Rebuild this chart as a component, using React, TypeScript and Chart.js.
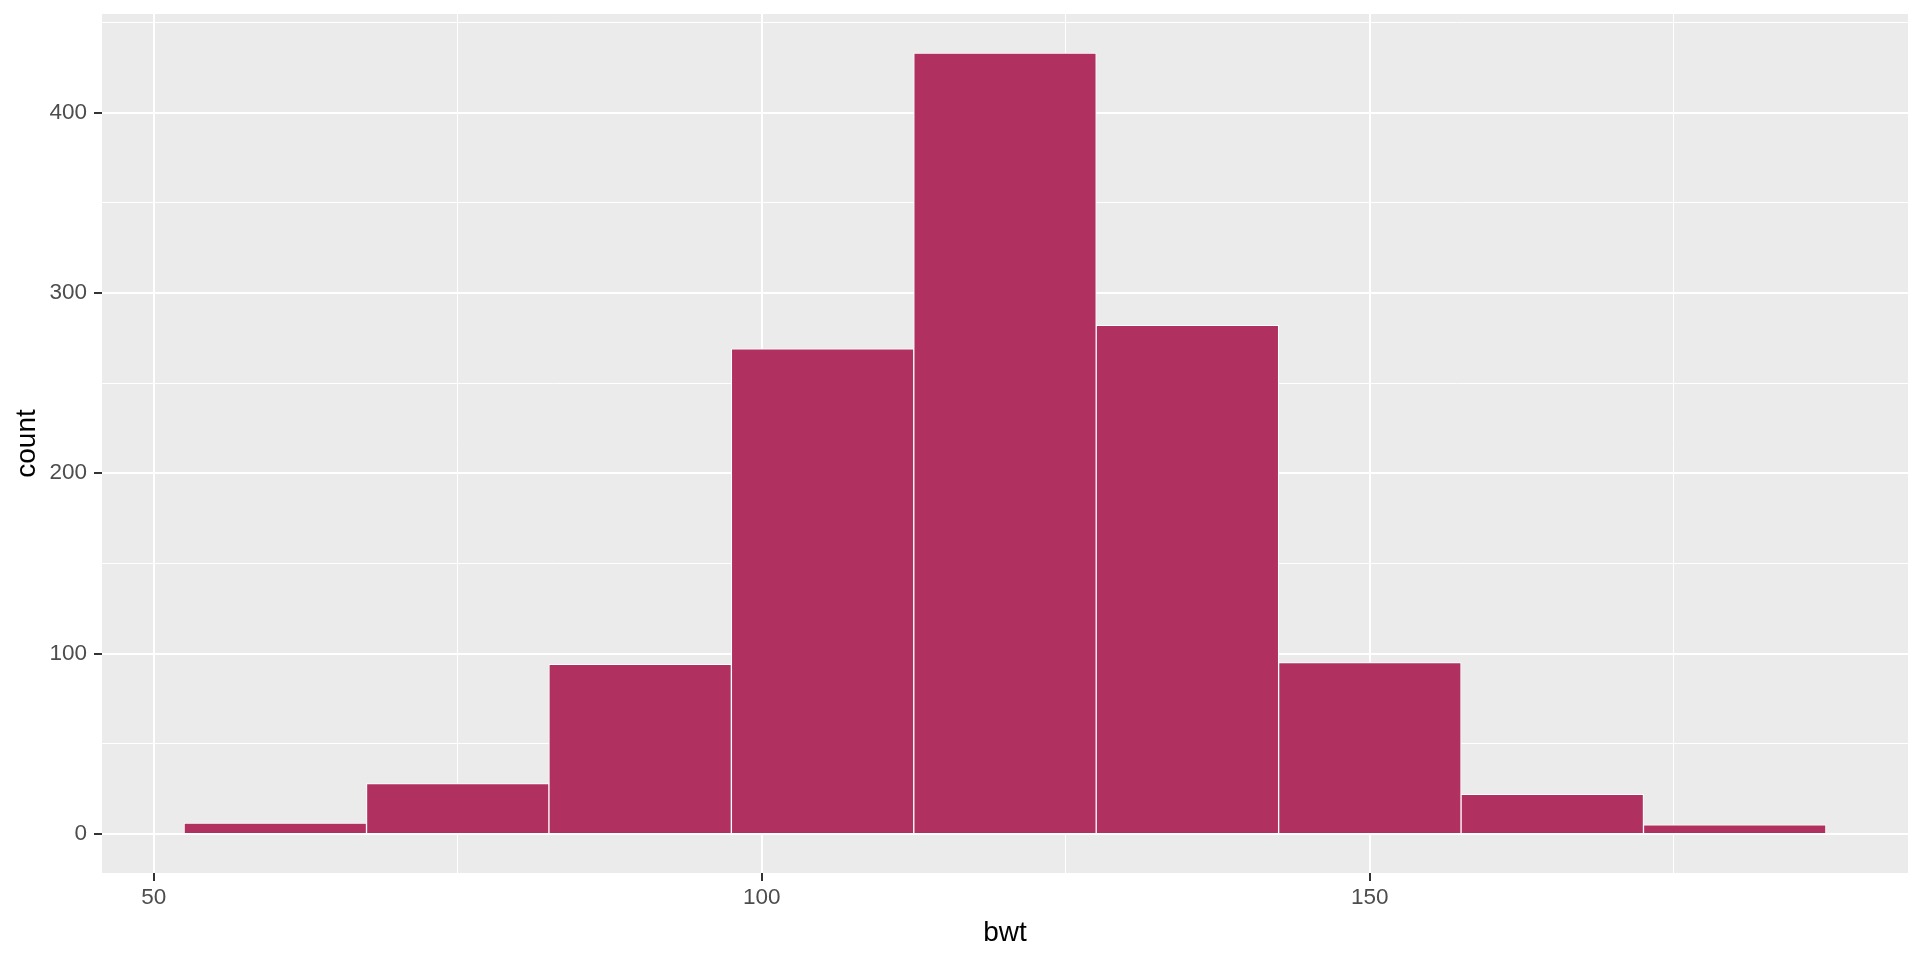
import React, { useEffect, useRef } from "react";
import { Chart, registerables } from "chart.js";

Chart.register(...registerables);

// Histogram of bwt (bin width 15)
const binCenters = [60, 75, 90, 105, 120, 135, 150, 165, 180];
const binCounts = [6, 28, 94, 269, 433, 282, 95, 22, 5];

const xTicks = [50, 75, 100, 125, 150, 175];
const xMajor = [50, 100, 150];
const yTicks = [0, 50, 100, 150, 200, 250, 300, 350, 400, 450];
const yMajor = [0, 100, 200, 300, 400];

const xMin = 45.75;
const xMax = 194.25;
const yMin = -21.65;
const yMax = 454.65;

const panelBg = {
  id: "panelBg",
  beforeDraw(chart: any) {
    const { ctx, chartArea } = chart;
    ctx.save();
    ctx.fillStyle = "#EBEBEB";
    ctx.fillRect(chartArea.left, chartArea.top, chartArea.right - chartArea.left, chartArea.bottom - chartArea.top);
    ctx.restore();
  },
};

export default function App() {
  const ref = useRef<HTMLCanvasElement | null>(null);
  useEffect(() => {
    if (!ref.current) return;
    const isMajor = (arr: number[]) => (ctx: any) => arr.includes(ctx.tick?.value);
    const xm = isMajor(xMajor);
    const ym = isMajor(yMajor);
    const chart = new Chart(ref.current, {
      type: "bar",
      data: {
        datasets: [
          {
            data: binCenters.map((c, i) => ({ x: c, y: binCounts[i] })),
            backgroundColor: "#B03060",
            borderColor: "#FFFFFF",
            borderWidth: 1,
            barPercentage: 1,
            categoryPercentage: 1,
          },
        ],
      },
      options: {
        animation: false,
        responsive: false,
        devicePixelRatio: 1,
        events: [],
        layout: { padding: { top: 14, right: 12, left: 0, bottom: 0 } },
        plugins: { legend: { display: false }, tooltip: { enabled: false } },
        scales: {
          x: {
            type: "linear",
            offset: false,
            min: xMin,
            max: xMax,
            afterBuildTicks: (s: any) => {
              s.ticks = xTicks.map((v) => ({ value: v }));
            },
            afterFit: (s: any) => {
              s.height = 87;
              s.paddingLeft = 0;
              s.paddingRight = 0;
            },
            border: { display: false },
            grid: {
              offset: false,
              color: "#FFFFFF",
              lineWidth: (ctx: any) => (xm(ctx) ? 2 : 1),
              tickColor: (ctx: any) => (xm(ctx) ? "#333333" : "rgba(0,0,0,0)"),
              tickWidth: 2,
              tickLength: 8,
            },
            ticks: {
              autoSkip: false,
              maxRotation: 0,
              padding: 3,
              color: "#4D4D4D",
              font: { family: "'Liberation Sans', Arial, sans-serif", size: 22.5 },
              callback: (v: any) => (xMajor.includes(Number(v)) ? String(v) : ""),
            },
            title: {
              display: true,
              text: "bwt",
              color: "#000000",
              font: { family: "'Liberation Sans', Arial, sans-serif", size: 28 },
              padding: { top: 0, bottom: 10 },
            },
          },
          y: {
            type: "linear",
            min: yMin,
            max: yMax,
            afterBuildTicks: (s: any) => {
              s.ticks = yTicks.map((v) => ({ value: v }));
            },
            afterFit: (s: any) => {
              s.width = 102;
              s.paddingTop = 0;
              s.paddingBottom = 0;
            },
            border: { display: false },
            grid: {
              color: "#FFFFFF",
              lineWidth: (ctx: any) => (ym(ctx) ? 2 : 1),
              tickColor: (ctx: any) => (ym(ctx) ? "#333333" : "rgba(0,0,0,0)"),
              tickWidth: 2,
              tickLength: 8,
            },
            ticks: {
              autoSkip: false,
              padding: 7,
              color: "#4D4D4D",
              font: { family: "'Liberation Sans', Arial, sans-serif", size: 22.5 },
              callback: (v: any) => (yMajor.includes(Number(v)) ? String(v) : ""),
            },
            title: {
              display: true,
              text: "count",
              color: "#000000",
              font: { family: "'Liberation Sans', Arial, sans-serif", size: 28 },
              padding: { top: 10, bottom: 0 },
            },
          },
        },
      },
      plugins: [panelBg],
    } as any);
    return () => chart.destroy();
  }, []);
  return (
    <div style={{ position: "fixed", left: 0, top: 0, width: 1920, height: 960, background: "#FFFFFF" }}>
      <canvas ref={ref} width={1920} height={960} style={{ display: "block" }} />
    </div>
  );
}
